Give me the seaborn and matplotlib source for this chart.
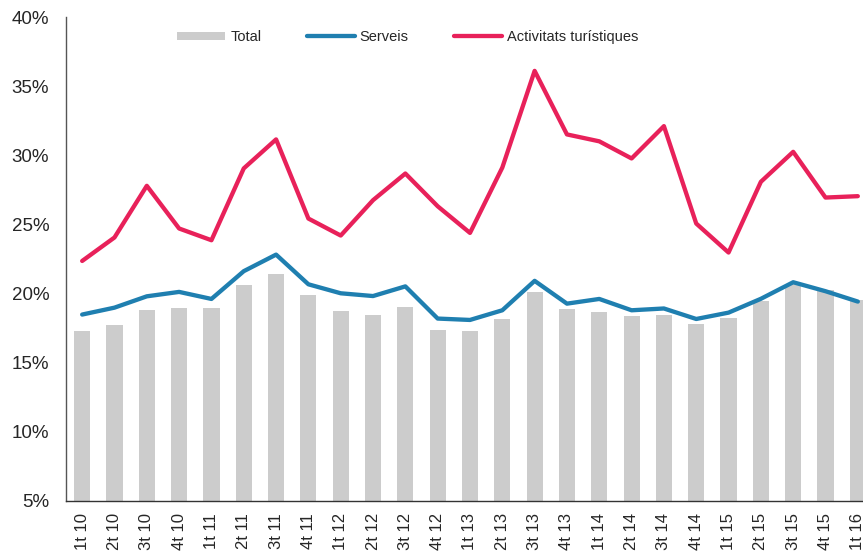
import numpy as np
import pandas as pd
import matplotlib
matplotlib.use("Agg")
import matplotlib.pyplot as plt
from matplotlib.ticker import FuncFormatter
from matplotlib.lines import Line2D
from matplotlib.patches import Patch
import seaborn as sns

quarters = ["1t 10", "2t 10", "3t 10", "4t 10", "1t 11", "2t 11", "3t 11", "4t 11",
            "1t 12", "2t 12", "3t 12", "4t 12", "1t 13", "2t 13", "3t 13", "4t 13",
            "1t 14", "2t 14", "3t 14", "4t 14", "1t 15", "2t 15", "3t 15", "4t 15",
            "1t 16"]
total = [17.25, 17.7, 18.8, 18.9, 18.9, 20.6, 21.4, 19.86,
         18.7, 18.46, 19.0, 17.37, 17.3, 18.14, 20.1, 18.84,
         18.67, 18.36, 18.43, 17.78, 18.2, 19.47, 20.65, 20.27,
         19.55]
serveis = [18.46, 18.96, 19.78, 20.1, 19.59, 21.6, 22.8, 20.65,
           20.0, 19.8, 20.5, 18.17, 18.07, 18.77, 20.9, 19.25,
           19.59, 18.77, 18.9, 18.14, 18.6, 19.6, 20.8, 20.15,
           19.4]
turistiques = [22.34, 24.04, 27.78, 24.69, 23.84, 29.04, 31.14, 25.41,
               24.18, 26.74, 28.67, 26.3, 24.37, 29.1, 36.1, 31.5,
               31.0, 29.76, 32.1, 25.05, 22.95, 28.07, 30.24, 26.93,
               27.03]
yticks = [5, 10, 15, 20, 25, 30, 35, 40]

sns.set_style("white")
plt.rcParams["font.family"] = ["Liberation Sans", "DejaVu Sans"]

BAR = "#cccccc"
BLUE = "#1f7fb0"
PINK = "#e8215a"

df = pd.DataFrame({"quarter": quarters, "total": total})
pos = np.arange(len(quarters))

fig = plt.figure(figsize=(8.63, 5.57), dpi=100)
ax = fig.add_axes([66 / 863, 1 - 500.5 / 557, (863 - 66) / 863, (500.5 - 17) / 557])

sns.barplot(data=df, x="quarter", y="total", color=BAR, width=0.5,
            saturation=1, ax=ax, linewidth=0)
sns.lineplot(x=pos, y=serveis, sort=False, color=BLUE, linewidth=3.1, ax=ax)
sns.lineplot(x=pos, y=turistiques, sort=False, color=PINK, linewidth=3.1, ax=ax)

ax.set_xlim(-0.5, 24.16)
ax.set_ylim(5, 40)
ax.set_yticks(yticks)
ax.yaxis.set_major_formatter(FuncFormatter(lambda v, p: f"{v:.0f}%"))
ax.set_xticks(pos)
ax.set_xticklabels(quarters, rotation=90, fontsize=12)
ax.tick_params(axis="y", labelsize=13.5, length=0, pad=12)
ax.tick_params(axis="x", length=0, pad=9)
ax.set_xlabel("")
ax.set_ylabel("")
for s in ["top", "right"]:
    ax.spines[s].set_visible(False)
ax.spines["left"].set_color("#555555")
ax.spines["bottom"].set_color("#333333")
ax.spines["left"].set_linewidth(1)
ax.spines["bottom"].set_linewidth(1)

handles = [Patch(facecolor=BAR, edgecolor="none"),
           Line2D([0], [0], color=BLUE, linewidth=3.1),
           Line2D([0], [0], color=PINK, linewidth=3.1)]
labels = ["Total", "Serveis", "Activitats turístiques"]
fig.legend(handles, labels, loc="center left", bbox_to_anchor=(177 / 863, 1 - 37 / 557),
           ncol=3, frameon=False, fontsize=10.5, handlelength=3.3, handleheight=0.5,
           handletextpad=0.35, columnspacing=3.1, borderpad=0, borderaxespad=0)

fig.savefig("out.png", dpi=100)
